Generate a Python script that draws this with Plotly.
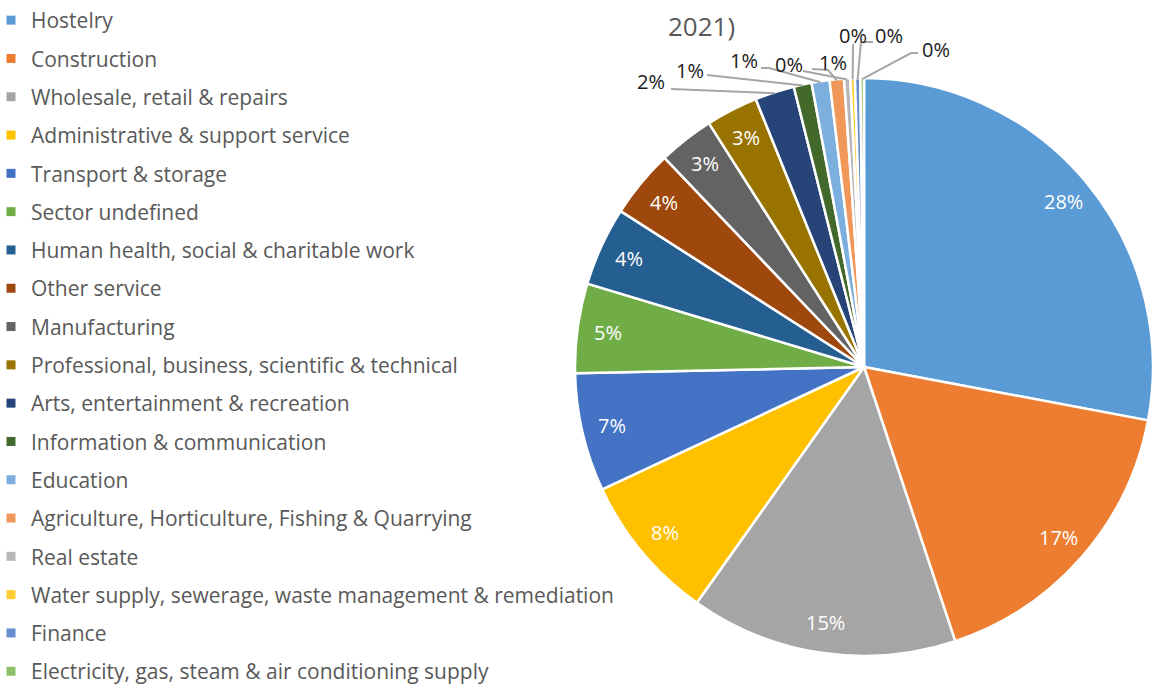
import math
import plotly.graph_objects as go

sectors = [
    "Hostelry", "Construction", "Wholesale, retail & repairs",
    "Administrative & support service", "Transport & storage", "Sector undefined",
    "Human health, social & charitable work", "Other service", "Manufacturing",
    "Professional, business, scientific & technical", "Arts, entertainment & recreation",
    "Information & communication", "Education",
    "Agriculture, Horticulture, Fishing & Quarrying", "Real estate",
    "Water supply, sewerage, waste management & remediation", "Finance",
    "Electricity, gas, steam & air conditioning supply",
]
shares = [27.9, 16.9, 14.9, 8.2, 6.6, 5.0, 4.4, 3.8, 3.1, 2.9, 2.2, 1.0, 1.0, 0.8, 0.35, 0.25, 0.3, 0.2]
colors = [
    "#5B9BD5", "#ED7D31", "#A5A5A5", "#FFC000", "#4472C4", "#70AD47",
    "#255E91", "#9E480E", "#636363", "#997300", "#264478", "#43682B",
    "#7CAFDD", "#F1975A", "#B7B7B7", "#FFCD33", "#698ED0", "#8CC168",
]
title_line1 = "Furloughed employments by sector (Great Britain, January"
title_line2 = "2021)"

# ---- layout / style settings ----
W, H = 1153, 684
dom_x = [575 / W, 1.0]
dom_y = [27 / H, 607 / H]
n_inside = 10
inside_r_frac = 0.895
# outside label placement (pixels): label centre, line start, optional elbow
out_label_pos = [(651, 81), (690, 70), (744, 61), (833, 63), (789, 64), (853, 35), (889, 35), (936, 49)]
out_line_start = [(671, 89), (707, 75), (761, 68), (812, 69), (803, 71), (853, 44), (873, 42), (918, 53)]
out_line_elbow = [None, None, (769, 68), (828, 70), None, None, (861, 42), (911, 53)]

def px2paper(x, y):
    return x / W, 1 - y / H

# pie geometry in pixels (from the domain)
x0, x1 = dom_x[0] * W, dom_x[1] * W
y0, y1 = (1 - dom_y[1]) * H, (1 - dom_y[0]) * H
cx, cy = (x0 + x1) / 2, (y0 + y1) / 2
R = min(x1 - x0, y1 - y0) / 2

total = sum(shares)
mid_angles = []
acc = 0.0
for v in shares:
    mid_angles.append((acc + v / 2) / total * 2 * math.pi)
    acc += v

fig = go.Figure()
fig.add_trace(go.Pie(
    labels=sectors, values=shares, sort=False, direction="clockwise", rotation=0,
    marker=dict(colors=colors, line=dict(color="white", width=2.5)),
    textinfo="none", showlegend=False, domain=dict(x=dom_x, y=dom_y),
    hoverinfo="label+percent",
))
for s, c in zip(sectors, colors):
    fig.add_trace(go.Scatter(
        x=[None], y=[None], mode="markers", name=s, legendgroup=s,
        marker=dict(symbol="square", size=9, color=c), showlegend=True, hoverinfo="skip",
    ))

annotations = []
shapes = []
for i, v in enumerate(shares):
    label = f"{round(v / total * 100):.0f}%"
    a = mid_angles[i]
    if i < n_inside:
        r = R * inside_r_frac
        px, py = cx + r * math.sin(a), cy - r * math.cos(a)
        ax_, ay_ = px2paper(px, py)
        annotations.append(dict(text=label, x=ax_, y=ay_, xref="paper", yref="paper", showarrow=False,
                                xanchor="center", yanchor="middle",
                                font=dict(family="Open Sans", size=20, color="white")))
    else:
        k = i - n_inside
        lx, ly = out_label_pos[k]
        ax_, ay_ = px2paper(lx, ly)
        annotations.append(dict(text=label, x=ax_, y=ay_, xref="paper", yref="paper", showarrow=False,
                                xanchor="center", yanchor="middle",
                                font=dict(family="Open Sans", size=20, color="#1a1a1a")))
        ex, ey = cx + (R - 1) * math.sin(a), cy - (R - 1) * math.cos(a)
        pts = [out_line_start[k]]
        if out_line_elbow[k] is not None:
            pts.append(out_line_elbow[k])
        pts.append((ex, ey))
        path = ""
        for j, (qx, qy) in enumerate(pts):
            fx, fy = px2paper(qx, qy)
            path += ("M" if j == 0 else " L") + f"{fx:.5f},{fy:.5f}"
        shapes.append(dict(type="path", path=path, xref="paper", yref="paper",
                           line=dict(color="#A6A6A6", width=2)))

# chart title (first line falls above the visible area, as in the reference)
t1x, t1y = px2paper(701, 2)
annotations.append(dict(text=title_line1, x=t1x, y=t1y, xref="paper", yref="paper", showarrow=False,
                        xanchor="center", yanchor="bottom",
                        font=dict(family="Open Sans", size=26, color="#595959")))
t2x, t2y = px2paper(701, 46)
annotations.append(dict(text=title_line2, x=t2x, y=t2y, xref="paper", yref="paper", showarrow=False,
                        xanchor="center", yanchor="bottom",
                        font=dict(family="Open Sans", size=26, color="#595959")))

fig.update_layout(
    width=W, height=H, margin=dict(l=0, r=0, t=0, b=0, autoexpand=False),
    paper_bgcolor="white", plot_bgcolor="white",
    xaxis=dict(visible=False), yaxis=dict(visible=False),
    legend=dict(x=0, y=1.0, xanchor="left", yanchor="top", xref="container", yref="container",
                font=dict(family="Open Sans", size=21, color="#595959"),
                tracegroupgap=8, itemwidth=30, indentation=-9, maxheight=900,
                bgcolor="rgba(0,0,0,0)"),
    annotations=annotations, shapes=shapes,
)
fig.write_html("out.html", config={"displayModeBar": False},
               post_script="document.body.style.margin='0';document.body.style.overflow='hidden';")
